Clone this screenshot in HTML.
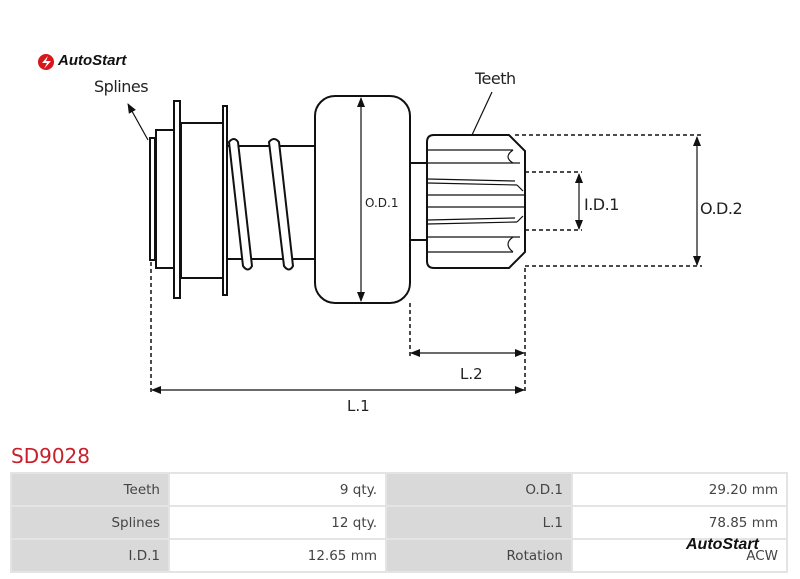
<!DOCTYPE html>
<html><head><meta charset="utf-8"><style>
body{margin:0;width:800px;height:579px;background:#fff;position:relative;overflow:hidden;font-family:"DejaVu Sans","Liberation Sans",sans-serif;}
svg{position:absolute;left:0;top:0}
table{position:absolute;left:10px;top:472px;border-collapse:separate;border-spacing:2px;background:#e4e4e4;width:778px;font-size:13.5px;color:#444}
td{height:31px;padding:0 8px;text-align:right;background:#fff}
td.l{background:#d9d9d9}
.logo{position:absolute;font-style:italic;font-weight:bold;font-family:"Liberation Sans",sans-serif;color:#111}
</style></head><body>
<svg width="800" height="579" viewBox="0 0 800 579">
<defs><marker id="a" markerWidth="10" markerHeight="8" refX="9" refY="4" orient="auto-start-reverse" markerUnits="userSpaceOnUse"><path d="M0,0 L10,4 L0,8 z" fill="#111"/></marker></defs>
<g fill="none" stroke="#111" stroke-width="2">
<rect x="150" y="138" width="5" height="122"/>
<rect x="156" y="130" width="18" height="138"/>
<rect x="174" y="101" width="6" height="197"/>
<rect x="181" y="123" width="42" height="155"/>
<rect x="223" y="106" width="4" height="189"/>
<rect x="227" y="146" width="88" height="113"/>
<g stroke-width="2"><path d="M229,142 Q234,136 238,142 L252,266 Q248,273 243,266 Z" fill="#fff"/>
<path d="M269,142 Q274,136 279,142 L293,266 Q289,273 284,266 Z" fill="#fff"/></g>
<rect x="315" y="96" width="95" height="207" rx="20" fill="#fff"/>
<rect x="410" y="163" width="18" height="77"/>
<path d="M434,135 L509,135 L525,151 L525,252 L509,268 L434,268 Q427,268 427,261 L427,142 Q427,135 434,135 Z" fill="#fff"/>
</g>
<g stroke="#111" stroke-width="1.2" fill="none">
<line x1="428" y1="150" x2="513" y2="150"/><line x1="428" y1="163" x2="520" y2="163"/>
<line x1="428" y1="179" x2="515" y2="181"/><line x1="428" y1="183" x2="517" y2="185"/>
<line x1="428" y1="195" x2="525" y2="195"/><line x1="428" y1="207" x2="525" y2="207"/>
<line x1="428" y1="220" x2="515" y2="218"/><line x1="428" y1="224" x2="517" y2="222"/>
<line x1="428" y1="237" x2="520" y2="237"/><line x1="428" y1="252" x2="513" y2="252"/>
<path d="M513,150 Q503,157 513,163"/><path d="M513,237 Q503,244 513,252"/>
<path d="M517,185 L523,191"/><path d="M517,222 L523,216"/>
<line x1="148" y1="140" x2="128" y2="104" marker-end="url(#a)"/>
<line x1="472" y1="135" x2="492" y2="92"/>
<line x1="361" y1="98" x2="361" y2="301" marker-start="url(#a)" marker-end="url(#a)"/>
<line x1="697" y1="137" x2="697" y2="265" marker-start="url(#a)" marker-end="url(#a)"/>
<line x1="579" y1="174" x2="579" y2="229" marker-start="url(#a)" marker-end="url(#a)"/>
<line x1="411" y1="353" x2="524" y2="353" marker-start="url(#a)" marker-end="url(#a)"/>
<line x1="152" y1="390" x2="524" y2="390" marker-start="url(#a)" marker-end="url(#a)"/>
</g>
<g stroke="#111" stroke-width="1.5" stroke-dasharray="4,3" fill="none">
<line x1="515" y1="135" x2="702" y2="135"/><line x1="525" y1="266" x2="702" y2="266"/>
<line x1="525" y1="172" x2="582" y2="172"/><line x1="525" y1="230" x2="582" y2="230"/>
<line x1="410" y1="303" x2="410" y2="358"/><line x1="525" y1="268" x2="525" y2="394"/>
<line x1="151" y1="262" x2="151" y2="394"/>
</g>
<g font-family="DejaVu Sans,sans-serif" fill="#222">
<text x="94" y="92" font-size="16" letter-spacing="-0.5">Splines</text>
<text x="475" y="84" font-size="16" letter-spacing="-0.5">Teeth</text>
<text x="365" y="207" font-size="12">O.D.1</text>
<text x="584" y="210" font-size="16" letter-spacing="-0.5">I.D.1</text>
<text x="700" y="214" font-size="16" letter-spacing="-0.5">O.D.2</text>
<text x="460" y="379" font-size="15">L.2</text>
<text x="347" y="411" font-size="15">L.1</text>
<text x="11" y="463" font-size="20" fill="#c8202a">SD9028</text>
</g>
<g fill="#d8161b"><circle cx="46" cy="62" r="8"/><circle cx="675" cy="546" r="8"/></g>
<path d="M48,56 L42,63 L47,63 L44,69 L51,61 L46,61 Z" fill="#fff"/>
<path d="M677,540 L671,547 L676,547 L673,553 L680,545 L675,545 Z" fill="#fff"/>
</svg>
<div class="logo" style="left:58px;top:52px;font-size:15px">AutoStart</div>
<table>
<tr><td class="l" style="width:140px">Teeth</td><td style="width:199px">9 qty.</td><td class="l" style="width:168px">O.D.1</td><td>29.20 mm</td></tr>
<tr><td class="l">Splines</td><td>12 qty.</td><td class="l">L.1</td><td>78.85 mm</td></tr>
<tr><td class="l">I.D.1</td><td>12.65 mm</td><td class="l">Rotation</td><td>ACW</td></tr>
</table>
<div class="logo" style="left:686px;top:536px;font-size:16px">AutoStart</div>
</body></html>
